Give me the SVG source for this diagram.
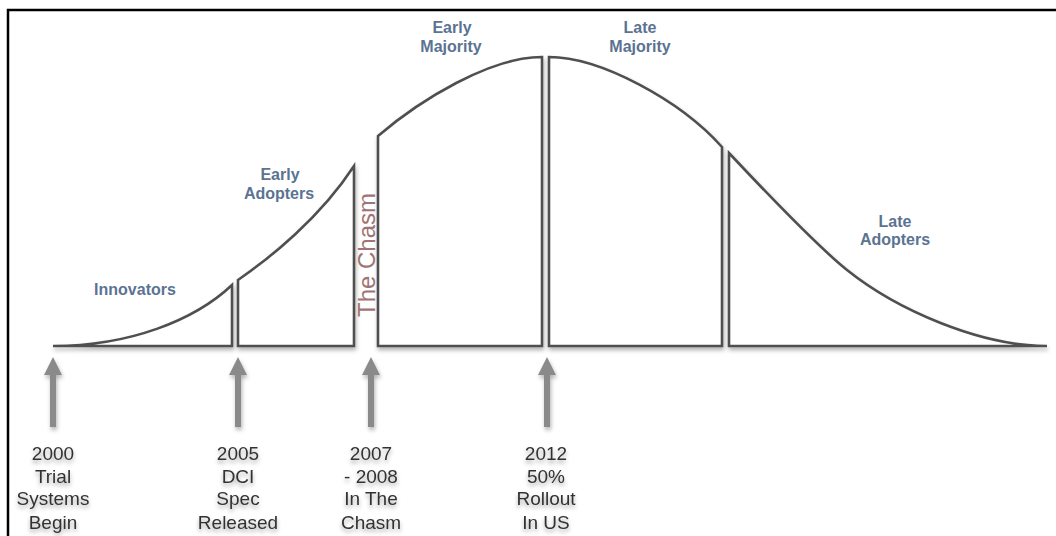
<svg xmlns="http://www.w3.org/2000/svg" width="1056" height="536" viewBox="0 0 1056 536">
<style>
.seg{fill:#ffffff;stroke:#505050;stroke-width:2.6;stroke-linejoin:miter;filter:url(#sh)}
.lbl{font-family:"Liberation Sans",Arial,sans-serif;font-weight:bold;font-size:16px;fill:#5b7392;text-anchor:middle}
.yr{font-family:"Liberation Sans",Arial,sans-serif;font-size:19px;fill:#333333;text-anchor:middle;filter:url(#tsh)}
.arr{fill:#8a8a8a;filter:url(#sh)}
.chasm{font-family:"Liberation Sans",Arial,sans-serif;font-size:24px;fill:#a07474;text-anchor:middle}
</style>
<defs>
<filter id="sh" x="-10%" y="-10%" width="130%" height="130%">
<feDropShadow dx="1" dy="3" stdDeviation="2" flood-color="#000" flood-opacity="0.3"/>
</filter>
<filter id="tsh" x="-20%" y="-30%" width="140%" height="170%">
<feDropShadow dx="0" dy="3" stdDeviation="2" flood-color="#000" flood-opacity="0.35"/>
</filter>
</defs>
<rect width="1056" height="536" fill="#ffffff"/>
<path d="M8 536 V10 H1056" fill="none" stroke="#000" stroke-width="2.5"/>

<g id="innovators">
<path class="seg" d="M53 346 C130 346 195 320 232 285 V346 Z"/>
<text class="lbl" x="135" y="295">Innovators</text>
</g>
<g id="early-adopters">
<path class="seg" d="M238 346 V280 C270 258 320 218 354 166 V346 Z"/>
<text class="lbl" x="280" y="180">Early</text>
<text class="lbl" x="279" y="199">Adopters</text>
</g>
<g id="chasm">
<text class="chasm" transform="translate(375 255) rotate(-90)" x="0" y="0">The Chasm</text>
</g>
<g id="early-majority">
<path class="seg" d="M378 346 V136 C420 100 490 57 542 57 V346 Z"/>
<text class="lbl" x="452" y="33">Early</text>
<text class="lbl" x="451" y="52">Majority</text>
</g>
<g id="late-majority">
<path class="seg" d="M549 346 V57 C600 57 680 100 722 147 V346 Z"/>
<text class="lbl" x="640" y="33">Late</text>
<text class="lbl" x="640" y="52">Majority</text>
</g>
<g id="late-adopters">
<path class="seg" d="M729 346 V153 C759 185 817 246 847 270 C897 310 980 346 1047 346 Z"/>
<text class="lbl" x="895" y="227">Late</text>
<text class="lbl" x="895" y="245">Adopters</text>
</g>

<g id="connectors">
<path class="arr" d="M53 357 L62 375 L56 375 L56 427 L50 427 L50 375 L44 375 Z"/>
<path class="arr" d="M238 357 L247 375 L241 375 L241 427 L235 427 L235 375 L229 375 Z"/>
<path class="arr" d="M371 357 L380 375 L374 375 L374 427 L368 427 L368 375 L362 375 Z"/>
<path class="arr" d="M547 357 L556 375 L550 375 L550 427 L544 427 L544 375 L538 375 Z"/>
</g>

<g id="milestone-2000">
<text class="yr" x="53" y="460">2000</text>
<text class="yr" x="53" y="483">Trial</text>
<text class="yr" x="53" y="505">Systems</text>
<text class="yr" x="53" y="529">Begin</text>
</g>
<g id="milestone-2005">
<text class="yr" x="238" y="460">2005</text>
<text class="yr" x="238" y="483">DCI</text>
<text class="yr" x="238" y="505">Spec</text>
<text class="yr" x="238" y="529">Released</text>
</g>
<g id="milestone-2007">
<text class="yr" x="371" y="460">2007</text>
<text class="yr" x="371" y="483">- 2008</text>
<text class="yr" x="371" y="505">In The</text>
<text class="yr" x="371" y="529">Chasm</text>
</g>
<g id="milestone-2012">
<text class="yr" x="546" y="460">2012</text>
<text class="yr" x="546" y="483">50%</text>
<text class="yr" x="546" y="505">Rollout</text>
<text class="yr" x="546" y="529">In US</text>
</g>
</svg>
